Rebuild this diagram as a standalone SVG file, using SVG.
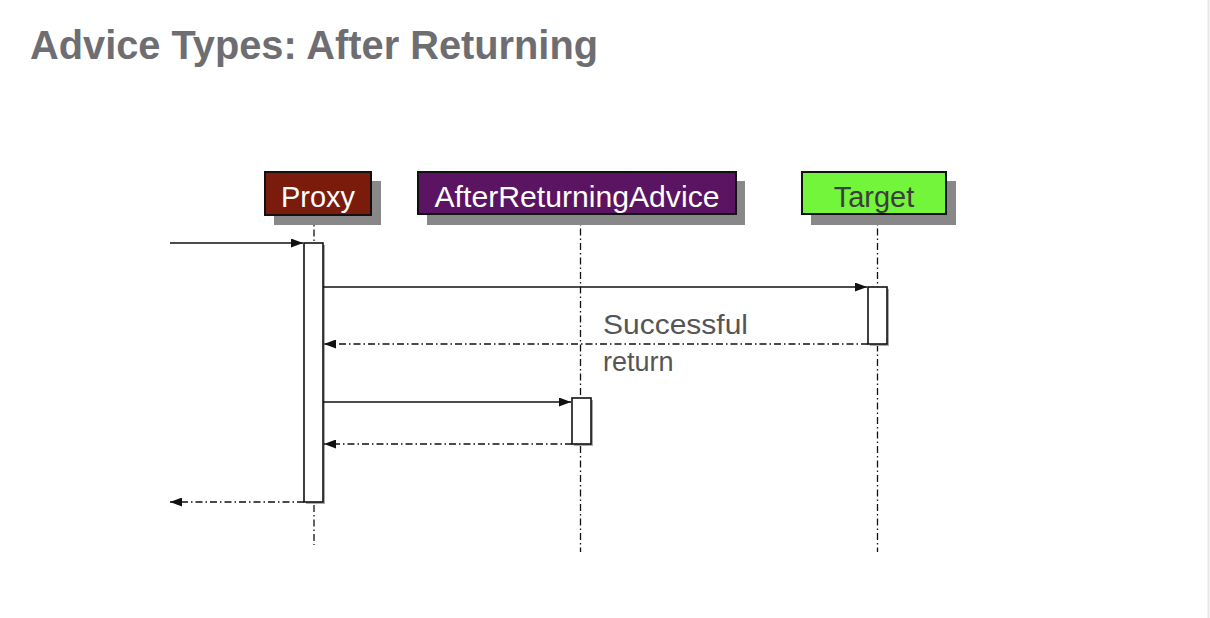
<svg xmlns="http://www.w3.org/2000/svg" width="1210" height="618" viewBox="0 0 1210 618">
<defs>
<style>
.title{font-family:"Liberation Sans",Arial,sans-serif;font-weight:bold;font-size:40px;fill:#6e6e72}
.hdr{font-family:"Liberation Sans",Arial,sans-serif;font-size:29px;text-anchor:middle}
.lbl{font-family:"Liberation Sans",Arial,sans-serif;font-size:27px;fill:#555}
.shadow{fill:#888}
.box{stroke:#111;stroke-width:2}
.life{stroke:#111;stroke-width:1.3;stroke-dasharray:7 3 1.5 3;fill:none}
.act{fill:#fff;stroke:#111;stroke-width:1.6}
.actsh{fill:#aaa}
.msg{stroke:#111;stroke-width:1.3;fill:none}
.ret{stroke:#111;stroke-width:1.3;fill:none;stroke-dasharray:7 3 1.5 3}
</style>
<marker id="ah" viewBox="0 0 12 9" refX="12" refY="4.5" markerWidth="12" markerHeight="9" markerUnits="userSpaceOnUse" orient="auto">
<path d="M0,0 L12,4.5 L0,9 Z" fill="#111"/>
</marker>
</defs>
<rect width="1210" height="618" fill="#fff"/>
<line x1="1208.5" y1="0" x2="1208.5" y2="618" stroke="#e6e6e6" stroke-width="2"/>
<text class="title" x="30" y="59" textLength="568" lengthAdjust="spacingAndGlyphs">Advice Types: After Returning</text>

<g id="lifelines">
<line class="life" x1="314" y1="215" x2="314" y2="545"/>
<line class="life" x1="580.5" y1="214" x2="580.5" y2="552"/>
<line class="life" x1="877.5" y1="214" x2="877.5" y2="552"/>
</g>

<g id="proxy">
<rect class="shadow" x="274" y="181" width="107" height="44"/>
<rect class="box" x="265" y="172" width="106" height="43" fill="#7a1b0c"/>
<text class="hdr" x="318" y="207" fill="#fff">Proxy</text>
</g>
<g id="advice">
<rect class="shadow" x="427" y="181" width="318" height="44"/>
<rect class="box" x="418" y="172" width="318" height="42" fill="#5b1462"/>
<text class="hdr" x="577" y="207" fill="#fff" textLength="285" lengthAdjust="spacingAndGlyphs">AfterReturningAdvice</text>
</g>
<g id="target">
<rect class="shadow" x="811" y="181" width="145" height="44"/>
<rect class="box" x="802" y="172" width="144" height="42" fill="#73f53b"/>
<text class="hdr" x="874" y="207" fill="#3d3d3d">Target</text>
</g>

<g id="activations">
<rect class="actsh" x="306" y="245" width="19" height="259"/>
<rect class="act" x="304" y="243" width="19" height="259"/>
<rect class="actsh" x="870" y="289" width="19" height="57"/>
<rect class="act" x="868" y="287" width="19" height="57"/>
<rect class="actsh" x="574" y="400" width="19" height="46"/>
<rect class="act" x="572" y="398" width="19" height="46"/>
</g>

<g id="connectors">
<line class="msg" x1="170" y1="243" x2="303" y2="243" marker-end="url(#ah)"/>
<line class="msg" x1="323" y1="287" x2="867" y2="287" marker-end="url(#ah)"/>
<line class="ret" x1="868" y1="344" x2="324" y2="344" marker-end="url(#ah)"/>
<line class="msg" x1="323" y1="402" x2="571" y2="402" marker-end="url(#ah)"/>
<line class="ret" x1="572" y1="444" x2="324" y2="444" marker-end="url(#ah)"/>
<line class="ret" x1="304" y1="502" x2="170" y2="502" marker-end="url(#ah)"/>
</g>

<g id="label">
<text class="lbl" x="603" y="334" textLength="145" lengthAdjust="spacingAndGlyphs">Successful</text>
<text class="lbl" x="603" y="371">return</text>
</g>
</svg>
